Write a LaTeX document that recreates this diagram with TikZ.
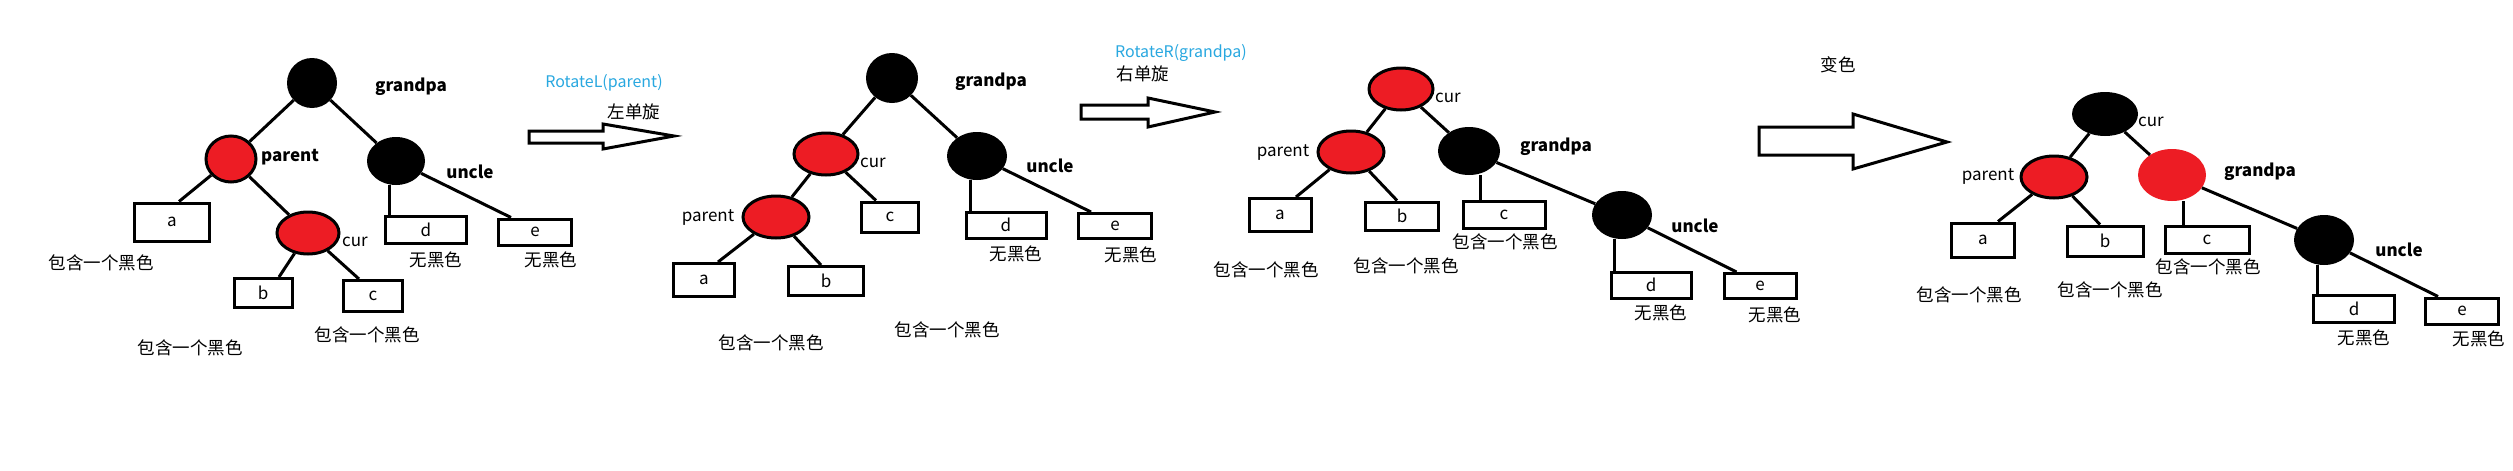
\documentclass[tikz,border=0pt]{standalone}
\usepackage{fontspec}
\setmainfont{Noto Sans CJK SC}
\usepackage{xcolor}
\usepackage{tikz}
\usetikzlibrary{shapes.geometric}
\definecolor{treered}{HTML}{ED1C24}
\definecolor{opblue}{HTML}{29A8E0}

\begin{document}
\begin{tikzpicture}[x=1pt, y=-1pt,
  blk/.style={ellipse, fill=black, inner sep=0pt, minimum width=60pt, minimum height=48pt},
  redn/.style={ellipse, draw=black, line width=3pt, fill=treered, inner sep=0pt, minimum width=64pt, minimum height=42pt},
  redplain/.style={ellipse, fill=treered, inner sep=0pt, minimum width=68pt, minimum height=52pt},
  leaf/.style={draw, line width=3pt, inner sep=0pt, font=\fontsize{17}{20}\selectfont},
  tag/.style={font=\fontsize{17}{20}\selectfont\bfseries},
  lbl/.style={font=\fontsize{17}{20}\selectfont},
  note/.style={font=\fontsize{17.5}{20}\selectfont},
  opname/.style={text=opblue, font=\fontsize{16}{19}\selectfont},
  link/.style={line width=3pt},
  bigarrow/.style={draw, line width=3pt, fill=white, line join=miter}
]
\fill[white] (0,0) rectangle (2513,471);
\useasboundingbox (0,0) rectangle (2513,471);

% first tree
\node[blk, minimum width=50pt, minimum height=50pt] (gp1) at (312,83) {};
\node[redn, minimum width=50pt, minimum height=46pt] (pa1) at (231,159) {};
\node[blk, minimum width=58pt] (un1) at (396,161) {};
\node[redn, minimum width=62pt] (cu1) at (308,233) {};
\node[leaf, minimum width=75pt, minimum height=38pt] (a1) at (172,222) {a};
\node[leaf, minimum width=58pt, minimum height=29pt] (b1) at (263,293) {b};
\node[leaf, minimum width=59pt, minimum height=31pt] (c1) at (373,296) {c};
\node[leaf, minimum width=81pt, minimum height=27pt] (d1) at (426,230) {d};
\node[leaf, minimum width=73pt, minimum height=26pt] (e1) at (535,232) {e};
\node[tag] (gp1l) at (411,87) {grandpa};
\node[tag] (pa1l) at (290,157) {parent};
\node[tag] (un1l) at (470,172) {uncle};
\node[lbl] (cu1l) at (355,242) {cur};
\node[note] (a1n) at (101,263) {包含一个黑色};
\node[note] (b1n) at (190,348) {包含一个黑色};
\node[note] (c1n) at (367,335) {包含一个黑色};
\node[note] (d1n) at (436,260) {无黑色};
\node[note] (e1n) at (551,260) {无黑色};

% first step
\draw[bigarrow] (529,131) -- (603,131) -- (603,124) -- (674,136) -- (603,149) -- (603,143) -- (529,143) -- cycle;
\node[opname] (op1) at (604,83) {RotateL(parent)};
\node[note] (op1n) at (634,112) {左单旋};

% second tree
\node[blk, minimum width=52pt, minimum height=50pt] (gp2) at (892,78) {};
\node[redn] (cu2) at (826,154) {};
\node[blk] (un2) at (977,156) {};
\node[redn, minimum width=66pt] (pa2) at (776,217) {};
\node[leaf, minimum width=57pt, minimum height=30pt] (c2) at (890,217) {c};
\node[leaf, minimum width=61pt, minimum height=33pt] (a2) at (704,280) {a};
\node[leaf, minimum width=75pt, minimum height=29pt] (b2) at (826,281) {b};
\node[leaf, minimum width=80pt, minimum height=26pt] (d2) at (1006,225) {d};
\node[leaf, minimum width=73pt, minimum height=25pt] (e2) at (1115,226) {e};
\node[tag] (gp2l) at (991,82) {grandpa};
\node[lbl] (cu2l) at (873,163) {cur};
\node[tag] (un2l) at (1050,166) {uncle};
\node[lbl] (pa2l) at (708,218) {parent};
\node[note] (d2n) at (1016,254) {无黑色};
\node[note] (e2n) at (1131,255) {无黑色};
\node[note] (a2n) at (771,343) {包含一个黑色};
\node[note] (c2n) at (947,330) {包含一个黑色};

% second step
\draw[bigarrow] (1081,105) -- (1148,105) -- (1148,98) -- (1215,112) -- (1148,127) -- (1148,119) -- (1081,119) -- cycle;
\node[opname] (op2) at (1181,53) {RotateR(grandpa)};
\node[note] (op2n) at (1143,74) {右单旋};

% third tree
\node[redn] (cu3) at (1401,89) {};
\node[redn, minimum width=66pt] (pa3) at (1351,152) {};
\node[blk, minimum width=62pt] (gp3) at (1469,151) {};
\node[blk] (un3) at (1622,215) {};
\node[leaf, minimum width=62pt, minimum height=33pt] (a3) at (1280,215) {a};
\node[leaf, minimum width=73pt, minimum height=28pt] (b3) at (1402,216) {b};
\node[leaf, minimum width=82pt, minimum height=27pt] (c3) at (1504,215) {c};
\node[leaf, minimum width=80pt, minimum height=26pt] (d3) at (1651,285) {d};
\node[leaf, minimum width=72pt, minimum height=25pt] (e3) at (1760,286) {e};
\node[lbl] (cu3l) at (1448,98) {cur};
\node[lbl] (pa3l) at (1283,153) {parent};
\node[tag] (gp3l) at (1556,147) {grandpa};
\node[tag] (un3l) at (1695,226) {uncle};
\node[note] (a3n) at (1266,270) {包含一个黑色};
\node[note] (b3n) at (1406,266) {包含一个黑色};
\node[note] (c3n) at (1505,242) {包含一个黑色};
\node[note] (d3n) at (1661,313) {无黑色};
\node[note] (e3n) at (1775,315) {无黑色};

% third step
\draw[bigarrow] (1759,127) -- (1853,127) -- (1853,114) -- (1947,142) -- (1853,169) -- (1853,155) -- (1759,155) -- cycle;
\node[note] (op3n) at (1838,65) {变色};

% fourth tree
\node[blk, minimum width=66pt, minimum height=44pt] (cu4) at (2105,114) {};
\node[redn, minimum width=66pt] (pa4) at (2054,177) {};
\node[redplain] (gp4) at (2172,175) {};
\node[blk, minimum height=50pt] (un4) at (2324,240) {};
\node[leaf, minimum width=63pt, minimum height=34pt] (a4) at (1983,240) {a};
\node[leaf, minimum width=76pt, minimum height=30pt] (b4) at (2105,241) {b};
\node[leaf, minimum width=84pt, minimum height=27pt] (c4) at (2207,240) {c};
\node[leaf, minimum width=81pt, minimum height=27pt] (d4) at (2354,309) {d};
\node[leaf, minimum width=73pt, minimum height=26pt] (e4) at (2462,311) {e};
\node[lbl] (cu4l) at (2151,122) {cur};
\node[lbl] (pa4l) at (1988,177) {parent};
\node[tag] (gp4l) at (2260,172) {grandpa};
\node[tag] (un4l) at (2399,250) {uncle};
\node[note] (a4n) at (1969,295) {包含一个黑色};
\node[note] (b4n) at (2110,290) {包含一个黑色};
\node[note] (c4n) at (2208,267) {包含一个黑色};
\node[note] (d4n) at (2364,338) {无黑色};
\node[note] (e4n) at (2479,339) {无黑色};

% tree edges
\foreach \u/\v in {gp1/pa1, gp1/un1, pa1/cu1, gp2/cu2, gp2/un2, cu2/pa2,
                   cu3/pa3, cu3/gp3, gp3/un3, cu4/pa4, cu4/gp4, gp4/un4}
  \draw[link] (\u) -- (\v);
\foreach \u/\v/\s in {pa1/a1/7, cu1/b1/16, cu1/c1/-14, cu2/c2/-14, pa2/a2/14, pa2/b2/-5,
                      pa3/a3/16, pa3/b3/-5, pa4/a4/15, pa4/b4/-5}
  \draw[link] (\u) -- ([xshift=\s pt]\v.north);
\foreach \u/\v in {un1/e1, un2/e2, un3/e3, un4/e4}
  \draw[link] (\u) -- ([xshift=14pt]\v.north west);
\foreach \u/\v/\s in {un1/d1/-7, un2/d2/-7, gp3/c3/11, un3/d3/-8, gp4/c4/11, un4/d4/-7}
  \draw[link] ([xshift=\s pt]\u.south) -- ([xshift=\s pt]\u.south |- \v.north);
\end{tikzpicture}
\end{document}
